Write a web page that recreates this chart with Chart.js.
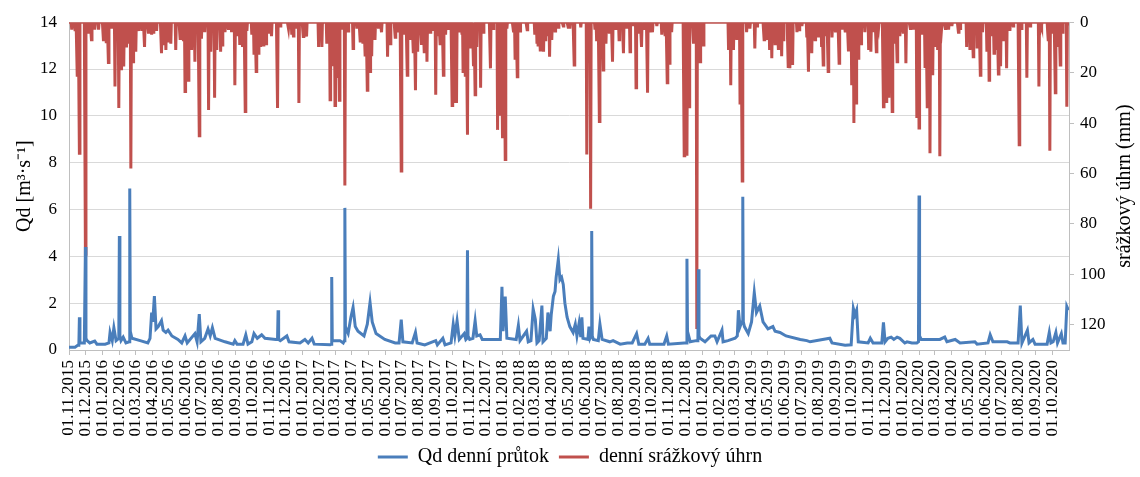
<!DOCTYPE html>
<html lang="cs">
<head>
  <meta charset="UTF-8">
  <title>Qd denní průtok a denní srážkový úhrn</title>
  <script src="https://cdn.jsdelivr.net/npm/chart.js"></script>
  <style>
    body { margin: 0; background: #fff; }
    #wrap { width: 1140px; height: 477px; position: relative; }
  </style>
</head>
<body>
  <div id="wrap"><canvas id="graf"></canvas></div>

  <script>
    // den 0 = 01.11.2015, poslední den 31.10.2020
    const startDate = '01.11.2015';
    const dayCount = 1827;

    const monthLabels = [
      '01.11.2015', '01.12.2015',
      '01.01.2016', '01.02.2016', '01.03.2016', '01.04.2016', '01.05.2016', '01.06.2016',
      '01.07.2016', '01.08.2016', '01.09.2016', '01.10.2016', '01.11.2016', '01.12.2016',
      '01.01.2017', '01.02.2017', '01.03.2017', '01.04.2017', '01.05.2017', '01.06.2017',
      '01.07.2017', '01.08.2017', '01.09.2017', '01.10.2017', '01.11.2017', '01.12.2017',
      '01.01.2018', '01.02.2018', '01.03.2018', '01.04.2018', '01.05.2018', '01.06.2018',
      '01.07.2018', '01.08.2018', '01.09.2018', '01.10.2018', '01.11.2018', '01.12.2018',
      '01.01.2019', '01.02.2019', '01.03.2019', '01.04.2019', '01.05.2019', '01.06.2019',
      '01.07.2019', '01.08.2019', '01.09.2019', '01.10.2019', '01.11.2019', '01.12.2019',
      '01.01.2020', '01.02.2020', '01.03.2020', '01.04.2020', '01.05.2020', '01.06.2020',
      '01.07.2020', '01.08.2020', '01.09.2020', '01.10.2020'
    ];

    const leftTicks = [0, 2, 4, 6, 8, 10, 12, 14];
    const rightTicks = [0, 20, 40, 60, 80, 100, 120];

    // [den, Qd m3/s]
    const flowPoints = [
      [0, 0.12], [11, 0.12], [16, 0.2], [18, 0.2], [19, 1.4], [20, 0.3], [28, 0.3], [29, 0.3],
      [30, 4.4], [31, 0.5], [33, 0.4], [38, 0.3], [47, 0.38], [51, 0.25], [66, 0.25], [73, 0.3],
      [75, 0.75], [79, 0.4], [82, 0.95], [86, 0.4], [91, 0.5], [92, 4.87], [93, 0.6], [95, 0.4],
      [99, 0.55], [104, 0.3], [110, 0.35], [111, 6.9], [112, 0.8], [115, 0.5], [130, 0.4], [144, 0.3],
      [148, 0.5], [151, 1.6], [153, 1.2], [156, 2.3], [159, 0.9], [163, 1.0], [169, 1.25], [172, 0.85],
      [177, 0.75], [181, 0.85], [188, 0.6], [199, 0.45], [206, 0.3], [212, 0.6], [216, 0.3], [230, 0.7],
      [234, 0.35], [238, 1.53], [241, 0.35], [248, 0.5], [254, 0.9], [258, 0.6], [262, 0.95], [267, 0.5],
      [285, 0.35], [300, 0.25], [303, 0.4], [307, 0.25], [318, 0.25], [323, 0.65], [327, 0.25], [334, 0.35],
      [338, 0.7], [344, 0.5], [352, 0.65], [358, 0.5], [378, 0.45], [381, 0.45], [382, 1.7], [383, 0.45],
      [386, 0.4], [398, 0.6], [402, 0.35], [422, 0.3], [431, 0.45], [437, 0.3], [444, 0.5], [448, 0.25],
      [477, 0.22], [479, 0.25], [480, 3.12], [481, 0.4], [495, 0.4], [501, 0.3], [503, 0.4], [504, 6.07],
      [505, 1.0], [508, 0.8], [510, 0.7], [515, 1.4], [519, 1.82], [523, 1.0], [528, 0.8], [539, 0.6],
      [545, 1.1], [550, 2.03], [554, 1.2], [561, 0.7], [577, 0.45], [596, 0.3], [603, 0.3], [607, 1.3],
      [610, 0.35], [627, 0.3], [633, 0.75], [636, 0.3], [650, 0.22], [670, 0.4], [673, 0.22], [683, 0.5],
      [687, 0.22], [698, 0.3], [702, 1.1], [705, 0.6], [709, 1.25], [713, 0.45], [722, 0.7], [725, 0.45],
      [727, 0.5], [728, 4.26], [729, 0.6], [732, 0.45], [738, 0.5], [742, 1.25], [745, 0.6], [751, 0.65],
      [755, 0.45], [788, 0.45], [791, 2.7], [793, 0.8], [797, 2.28], [800, 0.5], [817, 0.45], [821, 1.05],
      [824, 0.4], [836, 0.8], [839, 0.35], [844, 0.4], [848, 1.75], [852, 1.3], [855, 0.3], [859, 0.4],
      [864, 1.9], [866, 0.35], [872, 0.5], [875, 1.6], [879, 0.8], [881, 1.5], [885, 2.3], [888, 2.5],
      [890, 3.1], [894, 3.87], [897, 3.0], [900, 3.1], [903, 2.8], [906, 2.0], [910, 1.4], [915, 1.0],
      [921, 0.75], [925, 1.1], [928, 0.6], [932, 1.15], [935, 0.55], [937, 1.4], [939, 0.5], [948, 0.45],
      [950, 1.0], [952, 0.5], [954, 0.6], [955, 5.08], [956, 0.6], [958, 0.45], [967, 0.4], [970, 1.1],
      [974, 0.45], [988, 0.35], [994, 0.4], [1007, 0.25], [1020, 0.3], [1029, 0.3], [1037, 0.7], [1041, 0.25],
      [1052, 0.25], [1058, 0.5], [1061, 0.25], [1087, 0.25], [1092, 0.6], [1095, 0.25], [1124, 0.3], [1128, 0.3],
      [1129, 3.9], [1130, 0.8], [1135, 0.35], [1146, 0.4], [1149, 0.4], [1150, 3.45], [1151, 0.6], [1153, 0.5],
      [1162, 0.35], [1173, 0.6], [1180, 0.6], [1184, 0.35], [1193, 0.85], [1195, 0.35], [1204, 0.4], [1217, 0.5],
      [1221, 0.6], [1223, 1.7], [1226, 1.0], [1229, 1.2], [1230, 1.2], [1231, 6.54], [1232, 1.2], [1234, 1.0],
      [1241, 0.7], [1247, 1.2], [1252, 2.45], [1256, 1.6], [1262, 1.88], [1268, 1.2], [1277, 0.9], [1286, 1.0],
      [1290, 0.8], [1299, 0.75], [1310, 0.6], [1336, 0.45], [1348, 0.4], [1354, 0.35], [1390, 0.5], [1394, 0.3],
      [1418, 0.2], [1429, 0.22], [1433, 1.77], [1436, 1.5], [1439, 1.7], [1442, 0.35], [1460, 0.3], [1464, 0.5],
      [1469, 0.3], [1485, 0.3], [1488, 1.18], [1491, 0.35], [1496, 0.5], [1502, 0.55], [1507, 0.45], [1513, 0.55],
      [1518, 0.5], [1527, 0.3], [1531, 0.35], [1540, 0.3], [1549, 0.3], [1552, 0.35], [1553, 6.6], [1554, 0.6],
      [1557, 0.45], [1591, 0.45], [1600, 0.55], [1604, 0.35], [1619, 0.45], [1628, 0.3], [1655, 0.35], [1659, 0.25],
      [1679, 0.3], [1683, 0.65], [1688, 0.35], [1714, 0.35], [1719, 0.3], [1734, 0.3], [1738, 1.9], [1741, 0.3],
      [1751, 0.85], [1754, 0.3], [1761, 0.45], [1765, 0.25], [1787, 0.25], [1791, 0.75], [1794, 0.3], [1798, 0.35],
      [1803, 0.75], [1806, 0.3], [1813, 0.7], [1816, 0.3], [1820, 0.3], [1823, 1.86], [1826, 1.7]
    ];

    // [den, srážky mm] - dny bez záznamu = 0
    const rainEvents = [
      [5, 3], [11, 3], [15, 21], [19, 52], [30, 92], [35, 4], [41, 7], [47, 3], [54, 3], [63, 7.5],
      [68, 7.8], [72, 16], [78, 2.5], [84, 25.5], [91, 34], [96, 19], [100, 17.6], [105, 10], [107, 8.5],
      [113, 58], [117, 15.7], [122, 11.7], [127, 3.5], [133, 3.5], [138, 9.8], [145, 4], [151, 5], [154, 4],
      [160, 3.5], [169, 12.3], [172, 8.5], [177, 11], [181, 7.5], [186, 8.5], [195, 11], [203, 6.5], [209, 7],
      [212, 27.5], [218, 23], [224, 11], [230, 15.7], [238, 45], [242, 6.5], [248, 4], [255, 34.8], [259, 11.7],
      [266, 30], [270, 11], [277, 11.7], [280, 9], [285, 4], [291, 2.5], [297, 4], [303, 25], [308, 5.5],
      [312, 9], [317, 9.8], [322, 35.4], [325, 3.5], [334, 5], [338, 12.3], [342, 19.6], [346, 12.3], [350, 9.8],
      [355, 9], [360, 8.5], [364, 4], [370, 5.5], [381, 34], [386, 1.5], [401, 2.5], [407, 5], [410, 5.5],
      [416, 2.5], [420, 32], [428, 5.7], [434, 5.7], [456, 9.8], [462, 9.8], [471, 8.5], [477, 30.8], [482, 17.5],
      [486, 33], [490, 21.5], [494, 31], [498, 3], [504, 64.8], [510, 3.5], [519, 10.4], [526, 2.5], [532, 7.5],
      [537, 8.5], [541, 13], [545, 27], [550, 19.6], [553, 13.5], [559, 7], [565, 2], [571, 4], [582, 13.7],
      [587, 8.5], [596, 6], [600, 3.5], [607, 59], [612, 5], [618, 21], [623, 7], [626, 3], [629, 11.7],
      [633, 27], [637, 11.7], [644, 9], [649, 11.7], [654, 15.7], [660, 4], [665, 3.5], [670, 28.8], [675, 5.5],
      [678, 8.5], [684, 21], [688, 5], [693, 2.5], [700, 33], [703, 32], [708, 32], [713, 3.5], [718, 5],
      [720, 19.6], [724, 21], [728, 44.6], [733, 9.8], [736, 5.5], [739, 17.5], [742, 28.8], [745, 9.8], [748, 2],
      [752, 26], [757, 4], [770, 18.3], [775, 2.5], [783, 42.7], [788, 36.5], [792, 46], [797, 54.5], [800, 2.5],
      [812, 3.5], [815, 14.3], [819, 21.6], [824, 3.5], [837, 3], [851, 5], [855, 8.5], [857, 9], [861, 11],
      [867, 11.7], [870, 7], [873, 5.5], [878, 13.7], [882, 7], [888, 3.5], [894, 2], [903, 1.5], [912, 2],
      [915, 2.5], [923, 17], [935, 2], [946, 52.5], [953, 74], [961, 3], [964, 7.5], [969, 39.4], [973, 5],
      [976, 19], [981, 8.5], [987, 4], [993, 15.7], [998, 2.5], [1005, 7], [1013, 12.3], [1019, 2.5], [1025, 11.7],
      [1030, 1.5], [1036, 26], [1040, 4], [1046, 9.8], [1049, 2.5], [1057, 28], [1062, 3.5], [1066, 4], [1074, 1.5],
      [1083, 5], [1089, 5], [1093, 24], [1097, 16.3], [1101, 4], [1124, 53], [1129, 53], [1133, 33.5], [1138, 1.5],
      [1141, 8.5], [1147, 121.7], [1153, 15.7], [1156, 9], [1159, 9], [1205, 11], [1209, 25], [1214, 11], [1220, 7],
      [1226, 32], [1230, 63], [1238, 4], [1244, 2.5], [1253, 10.4], [1257, 1.5], [1270, 7], [1275, 7], [1280, 11],
      [1284, 14.3], [1290, 8.5], [1296, 10.4], [1302, 13.5], [1305, 7], [1314, 17.6], [1317, 18.3], [1322, 17],
      [1330, 4], [1334, 3], [1339, 1.5], [1348, 6], [1351, 19.6], [1357, 12.3], [1363, 7], [1369, 5.5], [1375, 9.8],
      [1378, 17], [1384, 5.5], [1387, 19.6], [1394, 6], [1400, 3.5], [1407, 16.3], [1412, 3], [1418, 3.5],
      [1424, 11], [1427, 10.4], [1430, 25], [1434, 40], [1438, 32], [1442, 14.3], [1447, 8.5], [1454, 4],
      [1461, 11], [1465, 11.7], [1470, 4], [1475, 11.7], [1479, 2.5], [1488, 33.5], [1494, 32], [1498, 30],
      [1504, 35.4], [1509, 8.5], [1513, 15.7], [1518, 5.5], [1524, 4], [1529, 16.3], [1537, 2.5], [1543, 3],
      [1549, 38], [1553, 42], [1558, 5], [1564, 17.6], [1568, 33.5], [1573, 52], [1578, 21], [1582, 9.8],
      [1587, 11], [1591, 53.2], [1594, 3], [1601, 2.5], [1607, 3], [1613, 1.5], [1625, 4], [1628, 2.5],
      [1640, 9.8], [1646, 11], [1652, 13.7], [1659, 9.8], [1665, 21], [1669, 4], [1677, 11.7], [1681, 23],
      [1686, 5.5], [1690, 12.3], [1695, 11], [1698, 20.5], [1702, 17.5], [1707, 7], [1713, 18.3], [1719, 3.5],
      [1725, 1.5], [1736, 48.6], [1740, 2.5], [1750, 22], [1756, 1.5], [1772, 25.5], [1777, 1], [1789, 7],
      [1792, 51], [1798, 4], [1802, 28], [1806, 9.8], [1811, 17], [1815, 4], [1823, 33.5], [1826, 1.5]
    ];

    function dayIndex(label) {
      const [d, m, y] = label.split('.').map(Number);
      const [d0, m0, y0] = startDate.split('.').map(Number);
      return Math.round((Date.UTC(y, m - 1, d) - Date.UTC(y0, m0 - 1, d0)) / 86400000);
    }

    const monthDays = monthLabels.map(dayIndex);

    const flowData = flowPoints.map(p => ({ x: p[0], y: p[1] }));

    const rainByDay = new Map();
    rainEvents.forEach(([d, mm]) => rainByDay.set(d, Math.max(rainByDay.get(d) || 0, mm)));
    const rainData = [];
    for (let d = 0; d < dayCount; d++) {
      rainData.push({ x: d, y: rainByDay.get(d) || 0 });
    }

    const serif = "'Liberation Serif', 'Times New Roman', serif";
    Chart.defaults.font.family = serif;
    Chart.defaults.color = '#000';

    // titulek pravé osy čtený zdola nahoru jako v Excelu
    const rightTitle = {
      id: 'rightTitle',
      afterDraw(chart) {
        const ctx = chart.ctx;
        const a = chart.chartArea;
        ctx.save();
        ctx.translate(1125, (a.top + a.bottom) / 2);
        ctx.rotate(-Math.PI / 2);
        ctx.font = '20px ' + serif;
        ctx.fillStyle = '#000';
        ctx.textAlign = 'center';
        ctx.textBaseline = 'middle';
        ctx.fillText('srážkový úhrn (mm)', 0, 0);
        ctx.restore();
      }
    };

    new Chart(document.getElementById('graf'), {
      type: 'line',
      data: {
        datasets: [
          {
            label: 'Qd denní průtok',
            data: flowData,
            yAxisID: 'y',
            borderColor: '#4a7ebb',
            backgroundColor: '#4a7ebb',
            borderWidth: 3,
            pointRadius: 0,
            tension: 0
          },
          {
            label: 'denní srážkový úhrn',
            data: rainData,
            yAxisID: 'y2',
            borderColor: '#c0504d',
            backgroundColor: '#c0504d',
            borderWidth: 3,
            pointRadius: 0,
            tension: 0
          }
        ]
      },
      options: {
        responsive: true,
        maintainAspectRatio: false,
        animation: false,
        layout: { padding: { top: 22, left: 0, right: 0, bottom: 0 } },
        plugins: {
          legend: {
            position: 'bottom',
            labels: {
              usePointStyle: true,
              pointStyle: 'line',
              pointStyleWidth: 30,
              font: { size: 20 },
              padding: 10
            }
          },
          tooltip: { enabled: false }
        },
        scales: {
          x: {
            type: 'linear',
            min: 0,
            max: dayCount,
            afterBuildTicks: axis => { axis.ticks = monthDays.map(v => ({ value: v })); },
            afterFit: axis => { axis.height = 87; },
            ticks: {
              autoSkip: false,
              minRotation: 90,
              maxRotation: 90,
              padding: 5,
              font: { size: 17 },
              callback: (v, i) => monthLabels[i]
            },
            grid: { drawOnChartArea: false, tickLength: 5, color: '#bfbfbf' },
            border: { color: '#bfbfbf' }
          },
          y: {
            position: 'left',
            min: 0,
            max: 14,
            afterBuildTicks: axis => { axis.ticks = leftTicks.map(v => ({ value: v })); },
            afterFit: axis => { axis.width = 69; },
            ticks: { font: { size: 17 }, padding: 12 },
            grid: { color: '#d9d9d9', drawTicks: false },
            border: { color: '#bfbfbf' },
            title: {
              display: true,
              text: 'Qd [m³·s⁻¹]',
              font: { size: 20 },
              padding: { top: 13, bottom: 0 }
            }
          },
          y2: {
            position: 'right',
            reverse: true,
            min: 0,
            max: 130,
            afterBuildTicks: axis => { axis.ticks = rightTicks.map(v => ({ value: v })); },
            afterFit: axis => { axis.width = 71; },
            ticks: { font: { size: 17 }, padding: 6 },
            grid: { drawOnChartArea: false, tickLength: 5, color: '#bfbfbf' },
            border: { color: '#bfbfbf' }
          }
        }
      },
      plugins: [rightTitle]
    });
  </script>
</body>
</html>
